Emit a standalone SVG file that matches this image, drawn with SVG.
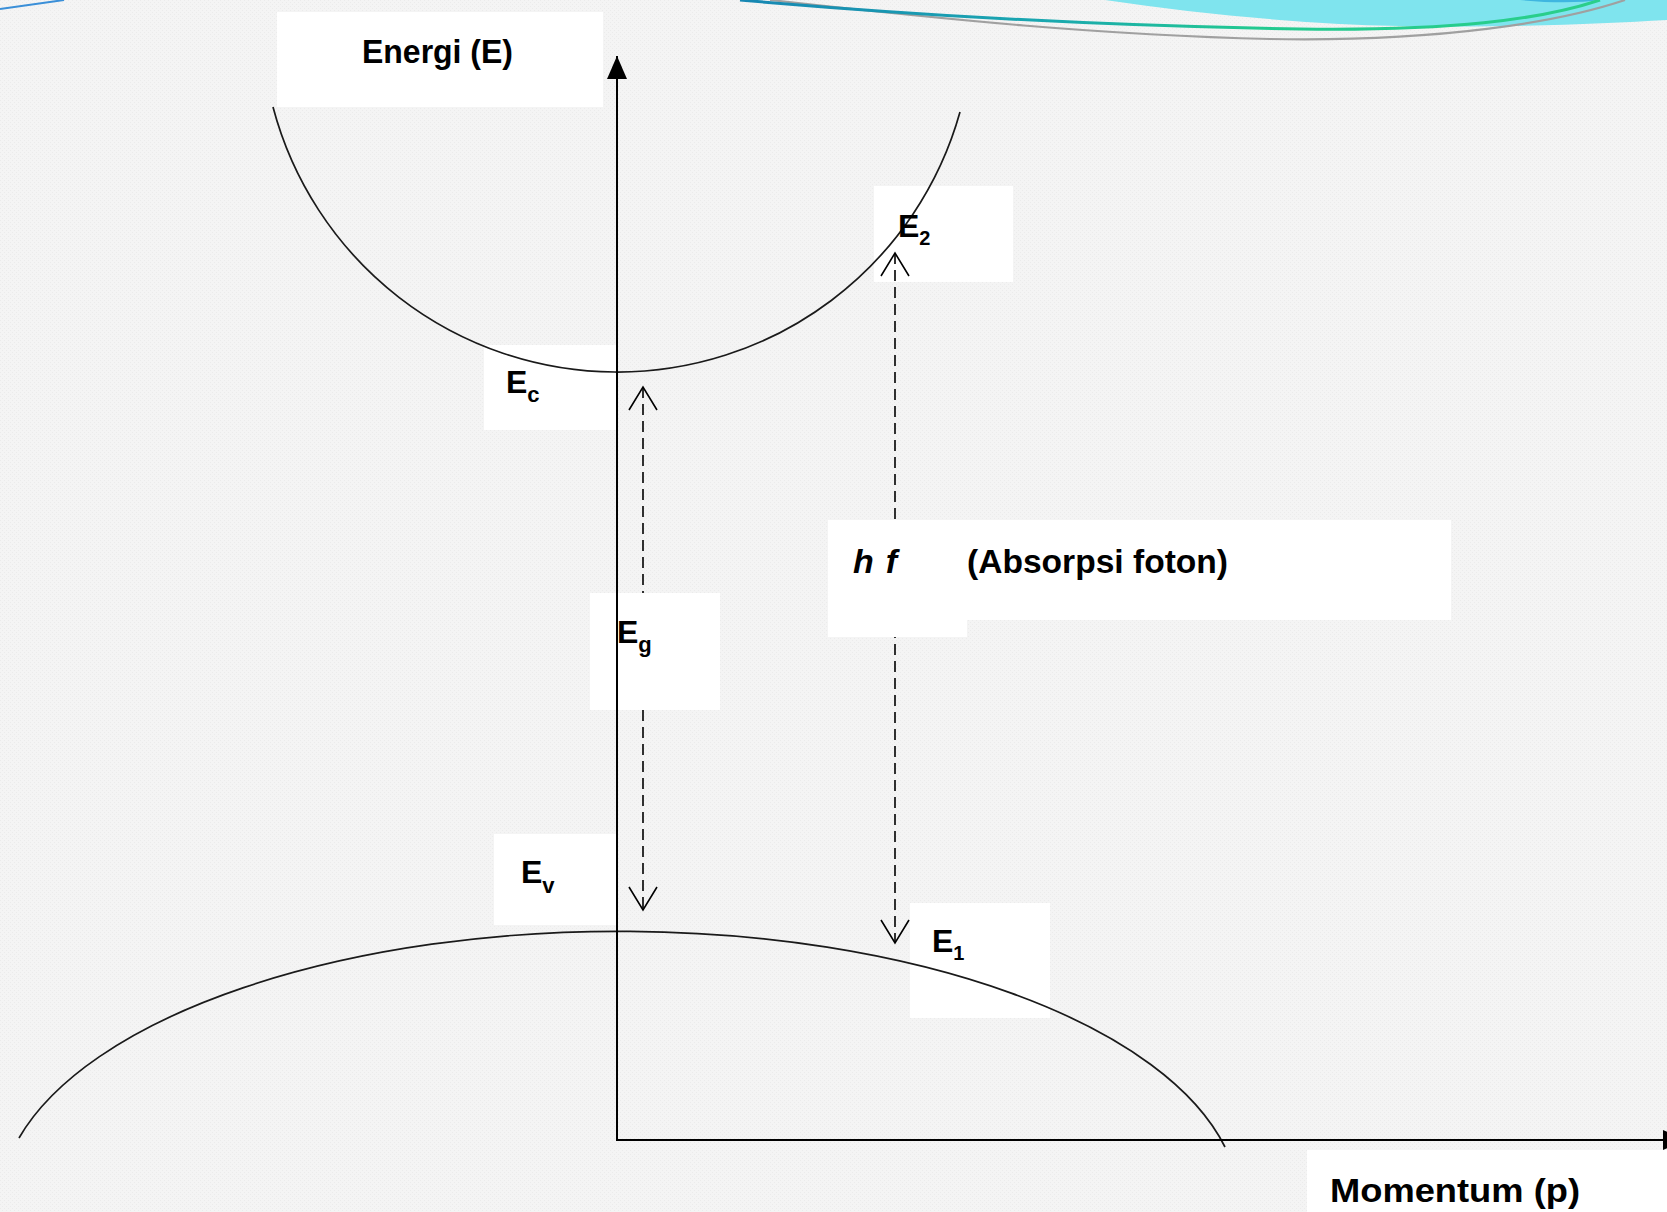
<svg xmlns="http://www.w3.org/2000/svg" width="1667" height="1212" viewBox="0 0 1667 1212">
  <style>
    .lbl { font-family: "Liberation Sans", Arial, sans-serif; font-weight: bold; fill: #000; }
    .box { fill: #ffffff; stroke: none; }
    .axis { stroke: #000; stroke-width: 2; fill: none; }
    .band { stroke: #1a1a1a; stroke-width: 1.7; fill: none; }
    .dash { stroke: #000; stroke-width: 1.6; stroke-dasharray: 11 6; fill: none; }
  </style>
  <defs>
    <pattern id="bgtex" width="4" height="4" patternUnits="userSpaceOnUse">
      <rect width="4" height="4" fill="#f4f4f4"/>
      <rect x="0" y="0" width="1" height="1" fill="#ebebeb"/>
      <rect x="2" y="2" width="1" height="1" fill="#ebebeb"/>
    </pattern>
    <linearGradient id="tealg" x1="740" y1="0" x2="1600" y2="0" gradientUnits="userSpaceOnUse">
      <stop offset="0" stop-color="#1787b3"/>
      <stop offset="0.35" stop-color="#1aa7b0"/>
      <stop offset="0.6" stop-color="#22c990"/>
      <stop offset="1" stop-color="#2bcf8a"/>
    </linearGradient>
    <marker id="tri" markerUnits="userSpaceOnUse" markerWidth="24" markerHeight="20" viewBox="0 0 24 20" refX="23" refY="10" orient="auto">
      <path d="M0 0 L23 10 L0 20 Z" fill="#000"/>
    </marker>
    <marker id="vee" markerUnits="userSpaceOnUse" markerWidth="30" markerHeight="32" viewBox="0 0 30 32" refX="26" refY="16" orient="auto-start-reverse">
      <path d="M3 2 L26 16 L3 30" fill="none" stroke="#000" stroke-width="1.6" stroke-dasharray="none"/>
    </marker>
  </defs>

  <rect x="0" y="0" width="1667" height="1212" fill="url(#bgtex)"/>

  <g id="decoration">
    <path d="M1105 0 C1200 14 1300 24 1400 26 C1500 28 1600 24 1667 20 L1667 0 Z" fill="#7fe4ee"/>
    <path d="M1520 0 C1550 3 1580 3 1600 0 Z" fill="#3fb6e0"/>
    <path d="M770 0 C950 20 1100 35 1270 39 C1440 42 1560 22 1625 0" fill="none" stroke="#a0a0a0" stroke-width="2.2"/>
    <path d="M740 0 C900 14 1100 26 1300 29 C1450 31 1540 20 1600 0" fill="none" stroke="url(#tealg)" stroke-width="3"/>
    <path d="M0 9 L64 0" fill="none" stroke="#3a8fd8" stroke-width="2"/>
  </g>

  <g id="label-boxes-back">
    <rect class="box" x="277" y="12" width="326" height="95"/>
    <rect class="box" x="874" y="186" width="139" height="96"/>
    <rect class="box" x="484" y="345" width="132" height="85"/>
    <rect class="box" x="494" y="834" width="122" height="91"/>
    <rect class="box" x="910" y="903" width="140" height="115"/>
    <rect class="box" x="1307" y="1150" width="360" height="62"/>
  </g>

  <g id="connectors">
    <line id="arrow-Eg" class="dash" x1="643" y1="387" x2="643" y2="910" marker-start="url(#vee)" marker-end="url(#vee)"/>
    <line id="arrow-hf" class="dash" x1="895" y1="253" x2="895" y2="943" marker-start="url(#vee)" marker-end="url(#vee)"/>
  </g>

  <g id="label-boxes-front">
    <rect class="box" x="590" y="593" width="130" height="117"/>
    <rect class="box" x="828" y="520" width="139" height="117"/>
    <rect class="box" x="967" y="520" width="484" height="100"/>
  </g>

  <g id="conduction-band">
    <path class="band" d="M273 107 A356 356 0 0 0 960 112"/>
  </g>
  <g id="valence-band">
    <path class="band" d="M19 1138 A620 275 0 0 1 1225 1147"/>
  </g>

  <g id="axes">
    <line class="axis" x1="617" y1="1141" x2="617" y2="56" marker-end="url(#tri)"/>
    <line class="axis" x1="616" y1="1140" x2="1686" y2="1140" marker-end="url(#tri)"/>
  </g>

  <g id="label-energi">
    <text class="lbl" x="362" y="63" font-size="34" textLength="151" lengthAdjust="spacingAndGlyphs">Energi (E)</text>
  </g>
  <g id="label-E2">
    <text class="lbl" x="898" y="237" font-size="32">E<tspan font-size="20" dy="8">2</tspan></text>
  </g>
  <g id="label-Ec">
    <text class="lbl" x="506" y="393" font-size="32">E<tspan font-size="22" dy="9">c</tspan></text>
  </g>
  <g id="label-Eg">
    <text class="lbl" x="617" y="643" font-size="32">E<tspan font-size="22" dy="9">g</tspan></text>
  </g>
  <g id="label-hf">
    <text class="lbl" x="853" y="573" font-size="34" font-style="italic" textLength="44" lengthAdjust="spacing">hf</text>
  </g>
  <g id="label-absorpsi">
    <text class="lbl" x="967" y="573" font-size="34" textLength="261" lengthAdjust="spacingAndGlyphs">(Absorpsi foton)</text>
  </g>
  <g id="label-Ev">
    <text class="lbl" x="521" y="883" font-size="32">E<tspan font-size="22" dy="10">v</tspan></text>
  </g>
  <g id="label-E1">
    <text class="lbl" x="932" y="952" font-size="32">E<tspan font-size="20" dy="8">1</tspan></text>
  </g>
  <g id="label-momentum">
    <text class="lbl" x="1330" y="1202" font-size="33" textLength="250" lengthAdjust="spacingAndGlyphs">Momentum (p)</text>
  </g>
</svg>
